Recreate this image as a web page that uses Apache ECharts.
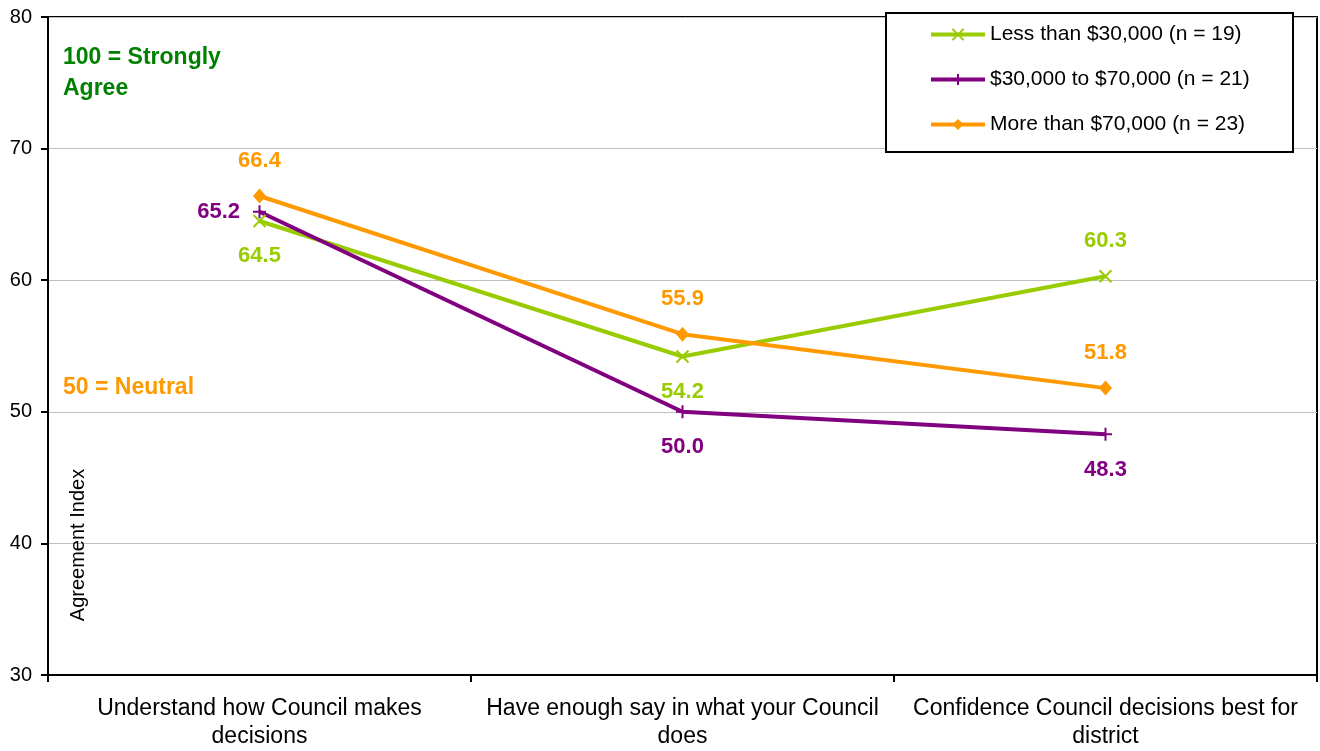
<!DOCTYPE html>
<html>
<head>
    <meta charset="utf-8">
    <title>Agreement Index by income</title>
    <script src="https://cdn.jsdelivr.net/npm/echarts@6/dist/echarts.min.js"></script>
    <style>
        html, body {margin: 0; padding: 0; background: #fff;}
        #chartmain {width: 1320px; height: 751px;}
    </style>
</head>
<body>
<div id="chartmain"></div>
<script>
    // data
    var categories = ['Understand how Council makes\ndecisions', 'Have enough say in what your Council\ndoes', 'Confidence Council decisions best for\ndistrict'];
    var seriesNames = ['Less than $30,000 (n = 19)', '$30,000 to $70,000 (n = 21)', 'More than $70,000 (n = 23)'];
    var lowIncome = [64.5, 54.2, 60.3];
    var midIncome = [65.2, 50.0, 48.3];
    var highIncome = [66.4, 55.9, 51.8];
    var yTicks = [30, 40, 50, 60, 70, 80];

    var green = '#99CC00', purple = '#800080', orange = '#FF9900';
    var crossPath = 'path://M0,0L10,10M10,0L0,10';
    var plusPath = 'path://M5,0L5,10M0,5L10,5';

    function labelFor(color, pos) {
        return {
            show: true,
            position: pos,
            distance: 17,
            color: color,
            fontSize: 22,
            fontWeight: 'bold',
            fontFamily: 'Liberation Sans, Arial, sans-serif',
            formatter: function (p) { return p.value.toFixed(1); }
        };
    }

    // 60.3 sits above its point
    var lowData = lowIncome.map(function (v, i) {
        if (i == 2) {
            return {value: v, label: {position: 'top'}};
        }
        return v;
    });

    // 65.2 sits to the left of its point
    var midData = midIncome.map(function (v, i) {
        if (i == 0) {
            return {value: v, label: {position: 'left', distance: 12}};
        }
        return v;
    });

    var option = {
        animation: false,
        textStyle: {fontFamily: 'Liberation Sans, Arial, sans-serif'},
        grid: {
            left: 48, right: 3, top: 17, bottom: 75,
            show: true, borderColor: '#000', borderWidth: 2
        },
        legend: {
            orient: 'vertical',
            left: 929,
            top: 24,
            padding: 0,
            itemWidth: 54,
            itemHeight: 14,
            itemGap: 24,
            z: 10,
            lineStyle: {width: 4},
            textStyle: {fontSize: 21, color: '#000'},
            data: seriesNames
        },
        xAxis: {
            type: 'category',
            data: categories,
            boundaryGap: true,
            axisLine: {lineStyle: {color: '#000', width: 2}},
            axisTick: {show: true, length: 7, lineStyle: {color: '#000', width: 2}},
            axisLabel: {interval: 0, color: '#000', fontSize: 23, lineHeight: 28, margin: 20},
            splitLine: {show: false}
        },
        yAxis: {
            type: 'value',
            min: yTicks[0],
            max: yTicks[yTicks.length - 1],
            interval: 10,
            axisLine: {show: true, lineStyle: {color: '#000', width: 2}},
            axisTick: {show: true, length: 7, lineStyle: {color: '#000', width: 2}},
            axisLabel: {color: '#000', fontSize: 20, margin: 16},
            splitLine: {lineStyle: {color: '#c0c0c0', width: 1}}
        },
        graphic: [
            {
                type: 'rect', z: 5,
                shape: {x: 886, y: 13, width: 407, height: 139},
                style: {fill: '#fff', stroke: '#000', lineWidth: 2}
            },
            {
                type: 'text', z: 5, x: 63, y: 42,
                style: {
                    text: '100 = Strongly\nAgree', fill: '#008000',
                    font: 'bold 23px Liberation Sans, Arial, sans-serif', lineHeight: 31
                }
            },
            {
                type: 'text', z: 5, x: 63, y: 376,
                style: {
                    text: '50 = Neutral', fill: orange,
                    font: 'bold 23px Liberation Sans, Arial, sans-serif'
                }
            },
            {
                type: 'text', z: 5, x: 78, y: 545, rotation: Math.PI / 2,
                style: {
                    text: 'Agreement Index', fill: '#000',
                    font: '20px Liberation Sans, Arial, sans-serif',
                    align: 'center', verticalAlign: 'middle'
                }
            }
        ],
        series: [
            {
                name: seriesNames[0],
                type: 'line',
                data: lowData,
                symbol: crossPath,
                symbolSize: 12,
                lineStyle: {color: green, width: 4},
                itemStyle: {color: green, borderColor: green, borderWidth: 2},
                label: labelFor(green, 'bottom'),
                z: 3
            },
            {
                name: seriesNames[1],
                type: 'line',
                data: midData,
                symbol: plusPath,
                symbolSize: 13,
                lineStyle: {color: purple, width: 4},
                itemStyle: {color: purple, borderColor: purple, borderWidth: 2},
                label: labelFor(purple, 'bottom'),
                z: 3
            },
            {
                name: seriesNames[2],
                type: 'line',
                data: highIncome,
                symbol: 'diamond',
                symbolSize: [13, 15],
                lineStyle: {color: orange, width: 4},
                itemStyle: {color: orange},
                label: labelFor(orange, 'top'),
                z: 3
            }
        ]
    };

    var myChart = echarts.init(document.getElementById('chartmain'));
    myChart.setOption(option);
</script>
</body>
</html>
